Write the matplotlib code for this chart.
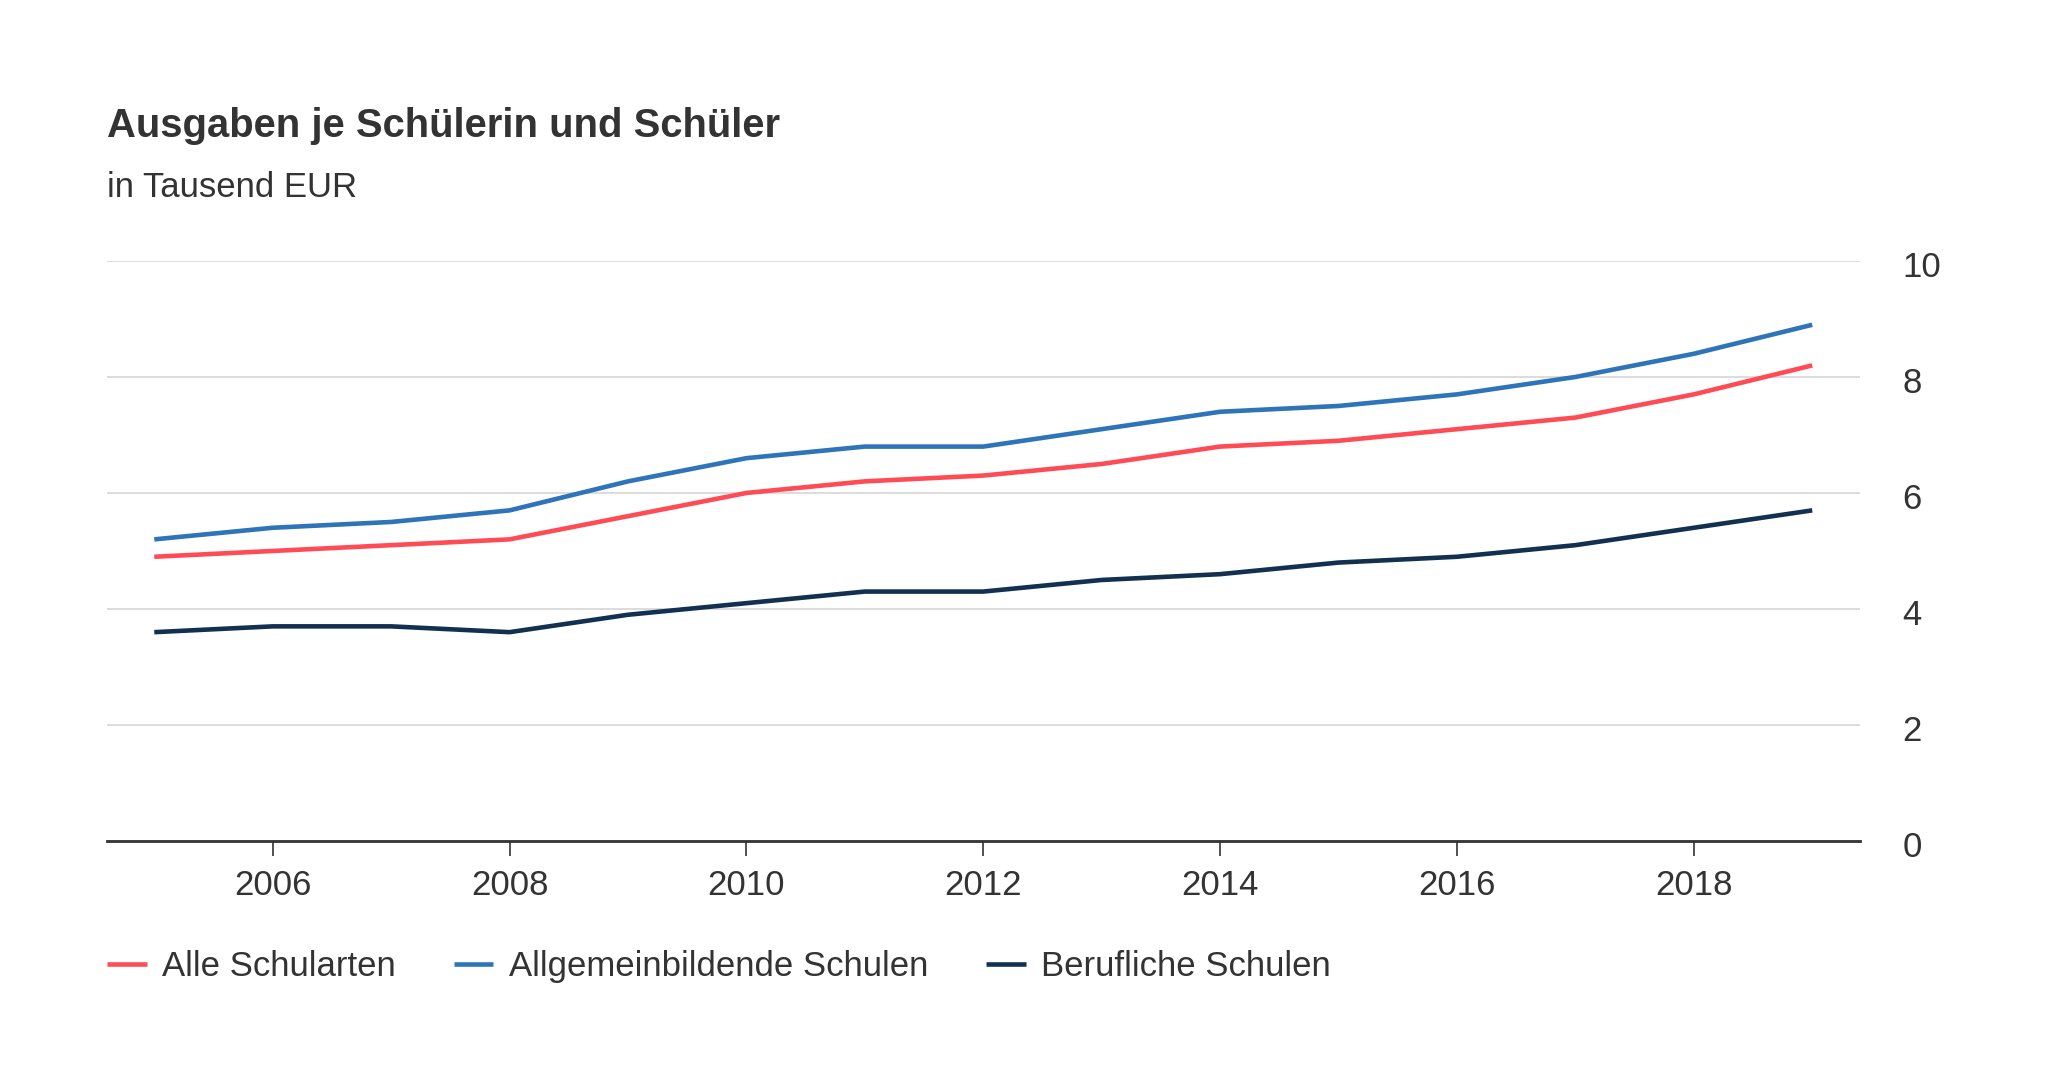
import matplotlib.pyplot as plt
import matplotlib.transforms as mtransforms

years = list(range(2005, 2020))
alle = [4.9, 5.0, 5.1, 5.2, 5.6, 6.0, 6.2, 6.3, 6.5, 6.8, 6.9, 7.1, 7.3, 7.7, 8.2]
allgemein = [5.2, 5.4, 5.5, 5.7, 6.2, 6.6, 6.8, 6.8, 7.1, 7.4, 7.5, 7.7, 8.0, 8.4, 8.9]
beruflich = [3.6, 3.7, 3.7, 3.6, 3.9, 4.1, 4.3, 4.3, 4.5, 4.6, 4.8, 4.9, 5.1, 5.4, 5.7]
labels = ["Alle Schularten", "Allgemeinbildende Schulen", "Berufliche Schulen"]
colors = ["#ff4b55", "#2e74b8", "#12304f"]
xticks = [2006, 2008, 2010, 2012, 2014, 2016, 2018]
yticks = [0, 2, 4, 6, 8, 10]

plt.rcParams['font.family'] = ['Liberation Sans', 'DejaVu Sans']
text_color = "#333333"

fig = plt.figure(figsize=(20.48, 10.92), dpi=100)
ax = fig.add_axes([0.0522, 0.2299, 0.908 - 0.0522, 0.761 - 0.2299])

for values, label, color in zip([alle, allgemein, beruflich], labels, colors):
    ax.plot(years, values, color=color, lw=3.3, label=label, solid_capstyle='butt')

ax.set_xlim(2004.6, 2019.4)
ax.set_ylim(0, 10)
ax.set_xticks(xticks)
ax.set_yticks(yticks)
ax.yaxis.tick_right()
ax.grid(axis='y', color='#d9d9d9', lw=1.3)
ax.set_axisbelow(True)
for side in ['top', 'left', 'right']:
    ax.spines[side].set_visible(False)
ax.spines['bottom'].set_color(text_color)
ax.spines['bottom'].set_linewidth(2)
ax.tick_params(axis='x', length=11, width=1.2, color=text_color, labelsize=25,
               labelcolor=text_color, pad=9)
ax.tick_params(axis='y', length=0, labelsize=25, labelcolor=text_color, pad=31)
# y labels sit a little below their gridlines in the original
shift = mtransforms.ScaledTranslation(0, -3 / 100, fig.dpi_scale_trans)
for lbl in ax.get_yticklabels():
    lbl.set_horizontalalignment('left')
    lbl.set_transform(lbl.get_transform() + shift)

fig.text(0.0522, 0.885, "Ausgaben je Schülerin und Schüler", fontsize=28.8,
         fontweight='bold', color=text_color, va='center')
fig.text(0.0522, 0.828, "in Tausend EUR", fontsize=25, color=text_color, va='center')

handles, _ = ax.get_legend_handles_labels()
fig.legend(handles, labels, loc='center left', bbox_to_anchor=(0.0522, 0.115), ncol=3,
           frameon=False, fontsize=25, labelcolor=text_color, handlelength=1.15,
           handletextpad=0.45, columnspacing=1.65, borderaxespad=0, borderpad=0)

fig.savefig("out.png", dpi=100, facecolor='white')
